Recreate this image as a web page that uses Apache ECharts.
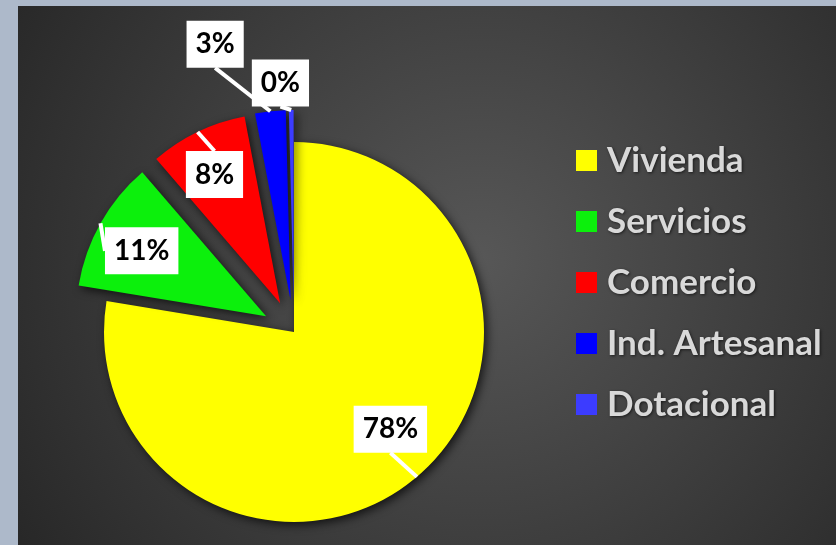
<!DOCTYPE html>
<html>
<head>
<meta charset="utf-8">
<script src="https://cdn.jsdelivr.net/npm/echarts@6/dist/echarts.min.js"></script>
<style>
  html, body { margin: 0; padding: 0; background: #adb9ca; width: 836px; height: 545px; overflow: hidden; }
  #chart { position: absolute; left: 18px; top: 6px; width: 818px; height: 539px;
    background: radial-gradient(circle 560px at 462px 254px, #575757 0%, #262626 100%); }
</style>
</head>
<body>
<div id="chart"></div>
<script>
const categories = ['Vivienda', 'Servicios', 'Comercio', 'Ind. Artesanal', 'Dotacional'];
const values = [77.6, 11.1, 8.3, 2.6, 0.4];
const exploded = [false, true, true, true, true];
const colors = ['#ffff00', '#0cf00c', '#ff0000', '#0000ff', '#3c3cff'];

// styling / layout constants
const PIE_CENTER = [276, 326];
const PIE_R = 190;
const EXPLODE = 32;
// label shifts (px) from the default outside label position
const labelShift = [[-78, -59], [96, 35], [57, 56], [-20, -52], [23, -12]];

const labelStyle = {
  position: 'outside',
  formatter: p => Math.round(p.percent) + '%',
  color: '#000', fontFamily: 'Lato', fontWeight: 'bold', fontSize: 28, lineHeight: 29,
  backgroundColor: '#ffffff', padding: [9, 9]
};
const labelLineStyle = { show: true, length: 15, length2: 0, lineStyle: { color: '#ffffff', width: 4 } };
function layoutLabel(p) {
  const s = labelShift[p.dataIndex];
  return {
    x: p.labelRect.x + p.labelRect.width / 2 + s[0],
    y: p.labelRect.y + p.labelRect.height / 2 + s[1],
    align: 'center',
    verticalAlign: 'middle'
  };
}
// transparent ring that only carries labels (so callouts sit above the slices)
function labelRing(radius, showFor) {
  return {
    type: 'pie',
    center: PIE_CENTER,
    radius: radius,
    startAngle: 90,
    clockwise: true,
    silent: true,
    z: 3,
    avoidLabelOverlap: false,
    itemStyle: { color: 'rgba(0,0,0,0)' },
    label: labelStyle,
    labelLine: labelLineStyle,
    labelLayout: layoutLabel,
    emphasis: { disabled: true },
    data: categories.map((c, i) => ({
      name: c, value: values[i],
      label: { show: showFor(i) }, labelLine: { show: showFor(i) }
    }))
  };
}

const chart = echarts.init(document.getElementById('chart'), null, { renderer: 'canvas' });
const option = {
  animation: false,
  color: colors,
  legend: {
    orient: 'vertical',
    left: 558,
    top: 137,
    padding: 0,
    itemWidth: 21,
    itemHeight: 21,
    itemGap: 26,
    icon: 'rect',
    selectedMode: false,
    textStyle: {
      color: '#d9d9d9', fontFamily: 'Lato', fontWeight: 'bold', fontSize: 35, lineHeight: 35,
      textShadowColor: 'rgba(0,0,0,0.6)', textShadowBlur: 3, textShadowOffsetX: 1, textShadowOffsetY: 1,
      padding: [0, 0, 0, 5]
    },
    data: categories
  },
  series: [{
    // visible slices; the exploded ones are "selected"
    type: 'pie',
    center: PIE_CENTER,
    radius: PIE_R,
    startAngle: 90,
    clockwise: true,
    selectedMode: 'multiple',
    selectedOffset: EXPLODE,
    z: 2,
    itemStyle: {
      shadowBlur: 10, shadowColor: 'rgba(0,0,0,0.7)', shadowOffsetX: 3, shadowOffsetY: 3
    },
    label: { show: false },
    labelLine: { show: false },
    emphasis: { disabled: true },
    data: categories.map((c, i) => ({ name: c, value: values[i], selected: exploded[i] }))
  },
  labelRing(PIE_R, i => !exploded[i]),
  labelRing(PIE_R + EXPLODE, i => exploded[i])
  ]
};
chart.setOption(option);
</script>
</body>
</html>
